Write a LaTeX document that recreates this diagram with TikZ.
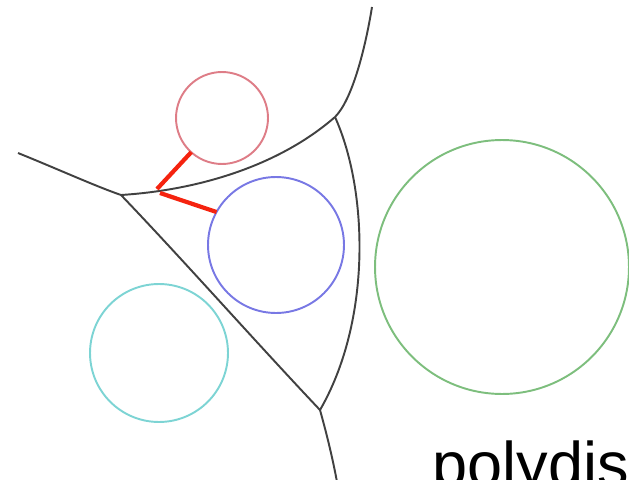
\documentclass[tikz,border=0pt]{standalone}
\usepackage{fontspec}
\setmainfont{Liberation Sans}
\usepackage{xcolor}
\usepackage{tikz}
\definecolor{sitered}{RGB}{222, 125, 135}
\definecolor{siteblue}{RGB}{120, 120, 228}
\definecolor{sitecyan}{RGB}{125, 212, 212}
\definecolor{sitegreen}{RGB}{125, 190, 125}
\definecolor{edgegray}{RGB}{65, 65, 65}
\definecolor{linkred}{RGB}{245, 35, 15}

\begin{document}
\begin{tikzpicture}[
    x=0.02cm, y=-0.02cm,
    site/.style={draw, circle, inner sep=0pt, outer sep=0pt, line width=1.1pt},
    edge/.style={draw=edgegray, line width=1.1pt},
    link/.style={draw=linkred, line width=2.4pt}
]
    \clip (0,0) rectangle (629,480);
    \useasboundingbox (0,0) rectangle (629,480);

    % Sites
    \node[site, draw=sitered, minimum size=1.84cm] (red) at (222,118) {};
    \node[site, draw=siteblue, minimum size=2.72cm] (blue) at (276,245) {};
    \node[site, draw=sitecyan, minimum size=2.76cm] (cyan) at (159,353) {};
    \node[site, draw=sitegreen, minimum size=5.08cm] (green) at (502,267) {};

    % Vertices
    \coordinate (vleft) at (121,195);
    \coordinate (vtop) at (335,117);
    \coordinate (vbot) at (320,410);
    \coordinate (endw) at (18,153);
    \coordinate (endn) at (372,7);
    \coordinate (ends) at (337,482);

    % Edges
    \draw[edge] (endw) .. controls (60,170) and (95,186) .. (vleft);
    \draw[edge] (vleft) .. controls (200,190) and (280,165) .. (vtop);
    \draw[edge] (vtop) .. controls (352,100) and (365,50) .. (endn);
    \draw[edge] (vtop) .. controls (368,190) and (372,320) .. (vbot);
    \draw[edge] (vleft) .. controls (186,263) and (252,338) .. (vbot);
    \draw[edge] (vbot) .. controls (327,435) and (333,460) .. (ends);

    % Links
    \coordinate (ptred) at (157,189);
    \coordinate (ptblue) at (160,193);
    \draw[link] (ptred) -- (red.228);
    \draw[link] (ptblue) -- (blue.151);

    % Label
    \node[anchor=base west, inner sep=0pt, font=\fontsize{35.9pt}{40pt}\selectfont] (lbl) at (432,486) {polydis};
\end{tikzpicture}
\end{document}
